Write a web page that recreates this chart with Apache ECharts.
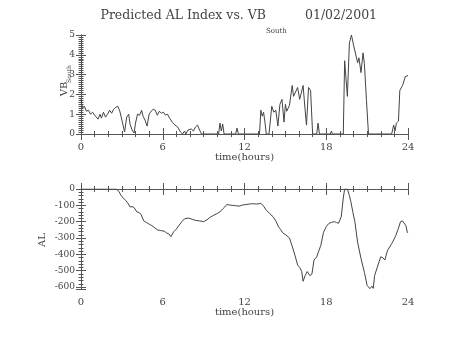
<!DOCTYPE html>
<html>
<head>
<meta charset="utf-8">
<script src="https://cdn.jsdelivr.net/npm/echarts@6/dist/echarts.min.js"></script>
<style>
  html, body { margin: 0; padding: 0; background: #fff; }
  #chart { width: 454px; height: 341px; }
</style>
</head>
<body>
<div id="chart"></div>
<script>
// Southward IMF (VB_South) driver, hours since 00 UT
const vbTime = [
  0.0, 0.1, 0.25, 0.4, 0.55, 0.7, 0.85, 1.0, 1.1, 1.25, 1.4, 1.5, 1.65, 1.8, 1.95,
  2.1, 2.25, 2.4, 2.55, 2.7, 2.85, 3.0, 3.2, 3.35, 3.5, 3.6, 3.75, 3.9, 4.0, 4.15,
  4.3, 4.45, 4.55, 4.7, 4.85, 5.0, 5.15, 5.3, 5.45, 5.6, 5.75, 5.9, 6.05, 6.2, 6.35,
  6.5, 6.7, 6.9, 7.1, 7.3, 7.45, 7.6, 7.7, 7.85, 7.95, 8.1, 8.25, 8.4, 8.55, 8.7,
  8.85, 10.1, 10.2, 10.3, 10.4, 10.5, 11.35, 11.45, 11.55, 12.5, 12.6, 12.9, 13.1, 13.2, 13.3,
  13.4, 13.5, 13.6, 13.8, 14.0, 14.15, 14.3, 14.45, 14.6, 14.75, 14.9, 15.0, 15.1, 15.3, 15.5,
  15.6, 15.7, 15.9, 16.05, 16.3, 16.45, 16.55, 16.7, 16.85, 17.0, 17.3, 17.4, 17.5, 18.3, 18.38,
  18.45, 19.25, 19.35, 19.55, 19.7, 19.85, 20.0, 20.1, 20.3, 20.4, 20.55, 20.7, 20.8, 20.95, 21.1,
  22.8, 22.95, 23.05, 23.15, 23.3, 23.4, 23.6, 23.8, 24.0
];
const vbValue = [
  1.75, 1.3, 1.4, 1.15, 1.2, 1.0, 1.1, 0.95, 1.05, 0.75, 1.0, 0.8, 1.1, 0.85, 1.0,
  1.2, 1.05, 1.25, 1.35, 1.4, 1.15, 0.7, 0.1, 0.85, 1.0, 0.5, 0.2, 0.05, 0.55, 1.0,
  0.95, 1.2, 0.9, 0.7, 0.4, 1.0, 1.15, 1.25, 1.2, 0.95, 1.15, 1.05, 1.1, 0.95, 1.0,
  0.8, 0.6, 0.45, 0.35, 0.1, 0.0, 0.15, 0.0, 0.2, 0.1, 0.25, 0.15, 0.35, 0.45, 0.2,
  0.0, 0.0, 0.55, 0.15, 0.5, 0.0, 0.0, 0.3, 0.0, 0.0, 0.05, 0.0, 0.0, 1.2, 0.9,
  1.1, 0.6, 0.0, 0.0, 1.4, 1.1, 1.2, 0.4, 1.5, 1.75, 0.6, 1.5, 1.15, 1.45, 2.45,
  1.9, 2.0, 2.35, 1.75, 2.45, 1.2, 0.45, 2.35, 2.2, 0.0, 0.0, 0.55, 0.0, 0.0, 0.15,
  0.0, 0.0, 3.7, 1.9, 4.6, 5.0, 4.5, 4.6, 3.6, 3.85, 3.1, 4.1, 3.55, 1.7, 0.0,
  0.0, 0.45, 0.15, 0.55, 0.65, 2.2, 2.45, 2.9, 2.95
];

// Predicted AL index (nT)
const alTime = [
  0.0, 2.6, 2.8, 2.95, 3.1, 3.3, 3.45, 3.6, 3.75, 3.9, 4.1, 4.25, 4.4, 4.6, 4.8,
  5.0, 5.15, 5.3, 5.6, 5.85, 6.1, 6.3, 6.45, 6.6, 6.8, 7.0, 7.2, 7.4, 7.6, 7.9,
  8.2, 8.4, 8.7, 9.0, 9.25, 9.5, 9.75, 10.0, 10.2, 10.4, 10.55, 10.7, 10.9, 11.1, 11.35,
  11.6, 11.85, 12.1, 12.35, 12.6, 12.9, 13.2, 13.4, 13.6, 13.85, 14.1, 14.3, 14.5, 14.65, 14.8,
  15.05, 15.3, 15.5, 15.7, 15.9, 16.05, 16.2, 16.3, 16.45, 16.6, 16.8, 16.95, 17.1, 17.3, 17.45,
  17.6, 17.8, 18.0, 18.2, 18.4, 18.6, 18.75, 18.9, 19.1, 19.25, 19.35, 19.55, 19.7, 19.8, 19.95,
  20.1, 20.3, 20.55, 20.8, 21.0, 21.1, 21.2, 21.35, 21.45, 21.55, 21.8, 22.0, 22.15, 22.3, 22.5,
  22.8, 22.95, 23.1, 23.3, 23.45, 23.6, 23.7, 23.85, 23.95, 24.0
];
const alValue = [
  0, 0, -18, -40, -55, -72, -88, -110, -108, -114, -140, -144, -155, -195, -205,
  -215, -222, -230, -250, -254, -258, -270, -275, -292, -262, -245, -222, -200, -182, -178,
  -186, -192, -195, -200, -188, -172, -160, -150, -140, -122, -110, -95, -98, -100, -102,
  -105, -98, -95, -92, -90, -92, -88, -105, -130, -150, -170, -195, -232, -248, -268,
  -282, -300, -350, -405, -465, -480, -505, -565, -530, -505, -530, -520, -435, -415, -380,
  -345, -265, -230, -210, -204, -200, -205, -210, -170, -55, 0, 0, -40, -75, -140,
  -200, -325, -425, -510, -590, -598, -610, -595, -608, -530, -465, -415, -420, -435, -375,
  -335, -312, -285, -240, -200, -195, -190, -225, -265, -270
];

const xTicks = { interval: 6, min: 0, max: 24 };
const fontFamily = '"DejaVu Serif", serif';
const inkColor = '#444';
const axisColor = '#555';

function pairs(xs, ys) {
  return xs.map((x, i) => [x, ys[i]]);
}

// Ticks point into the plot area on all four sides
function xAxisFor(gridIndex, position, showLabel) {
  return {
    type: 'value', gridIndex, position,
    min: xTicks.min, max: xTicks.max, interval: xTicks.interval,
    axisLine: { lineStyle: { color: axisColor, width: 1 } },
    axisTick: { inside: true, length: 6, lineStyle: { color: axisColor } },
    minorTick: { show: true, splitNumber: 6, length: 3, lineStyle: { color: axisColor } },
    splitLine: { show: false },
    axisLabel: { show: showLabel, margin: 8, color: inkColor, fontFamily, fontSize: 10 },
    name: showLabel ? 'time(hours)' : '',
    nameLocation: 'middle', nameGap: 18,
    nameTextStyle: { color: inkColor, fontFamily, fontSize: 10 }
  };
}

function yAxisFor(gridIndex, position, showLabel, range, minorSplit) {
  return {
    type: 'value', gridIndex, position,
    min: range[0], max: range[1],
    splitNumber: range[2],
    axisLine: { show: true, lineStyle: { color: axisColor, width: 1 } },
    axisTick: { show: true, inside: true, length: 5, lineStyle: { color: axisColor } },
    minorTick: { show: true, splitNumber: minorSplit, length: 2.5, lineStyle: { color: axisColor } },
    splitLine: { show: false },
    axisLabel: {
      show: showLabel, margin: 6, color: inkColor, fontFamily, fontSize: 9,
      showMinLabel: range[3], showMaxLabel: true
    }
  };
}

const vbRange = [0, 5, 5, true];
const alRange = [-612, 0, 6, false];

const chart = echarts.init(document.getElementById('chart'), null, { renderer: 'canvas' });
chart.setOption({
  backgroundColor: '#fff',
  animation: false,
  grid: [
    { left: 81, top: 35, width: 327, height: 99 },
    { left: 81, top: 189, width: 327, height: 100 }
  ],
  xAxis: [
    xAxisFor(0, 'bottom', true),
    xAxisFor(0, 'top', false),
    xAxisFor(1, 'bottom', true),
    xAxisFor(1, 'top', false)
  ],
  yAxis: [
    yAxisFor(0, 'left', true, vbRange, 10),
    yAxisFor(0, 'right', false, vbRange, 10),
    yAxisFor(1, 'left', true, alRange, 5),
    yAxisFor(1, 'right', false, alRange, 5)
  ],
  series: [
    {
      type: 'line', xAxisIndex: 0, yAxisIndex: 0,
      data: pairs(vbTime, vbValue), showSymbol: false,
      lineStyle: { color: '#444', width: 1 }
    },
    {
      type: 'line', xAxisIndex: 2, yAxisIndex: 2,
      data: pairs(alTime, alValue), showSymbol: false,
      lineStyle: { color: '#444', width: 1 }
    }
  ],
  graphic: [
    { type: 'text', x: 266, y: 16, style: { text: 'Predicted AL Index vs. VB', fill: inkColor, font: '12.5px ' + fontFamily, align: 'right', verticalAlign: 'middle' } },
    { type: 'text', x: 266, y: 31, style: { text: 'South', fill: inkColor, font: '7px ' + fontFamily, align: 'left', verticalAlign: 'middle' } },
    { type: 'text', x: 305, y: 16, style: { text: '01/02/2001', fill: inkColor, font: '12.5px ' + fontFamily, align: 'left', verticalAlign: 'middle' } },
    { type: 'text', x: 64, y: 89, rotation: Math.PI / 2, style: { text: 'VB', fill: inkColor, font: '10px ' + fontFamily, align: 'center', verticalAlign: 'middle' } },
    { type: 'text', x: 69, y: 74, rotation: Math.PI / 2, style: { text: 'South', fill: inkColor, font: '6px ' + fontFamily, align: 'center', verticalAlign: 'middle' } },
    { type: 'text', x: 42, y: 240, rotation: Math.PI / 2, style: { text: 'AL', fill: inkColor, font: '10px ' + fontFamily, align: 'center', verticalAlign: 'middle' } }
  ]
});
</script>
</body>
</html>
